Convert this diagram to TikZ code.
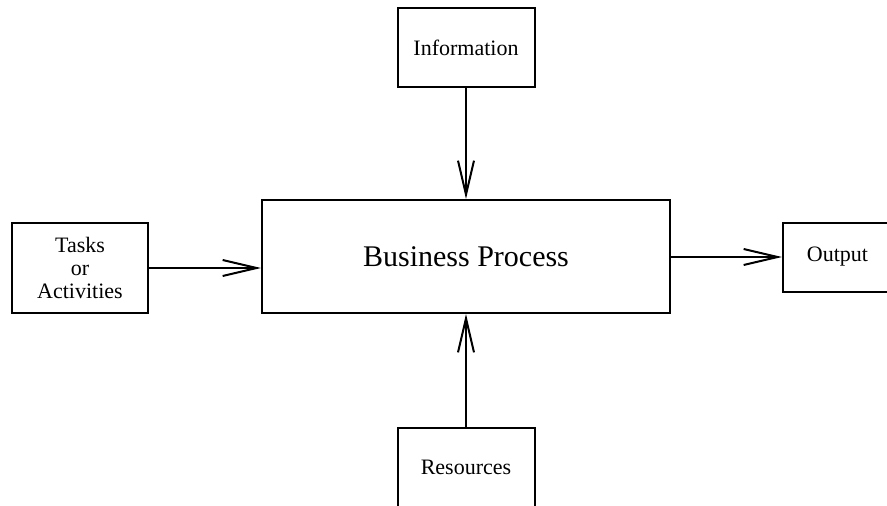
\documentclass[tikz,border=0pt]{standalone}
\usepackage{fontspec}
\setmainfont{Liberation Serif}
\usetikzlibrary{arrows.meta}

\begin{document}
\begin{tikzpicture}[x=1pt, y=-1pt,
	box/.style={draw, line width=2pt, inner sep=0pt, align=center, font=\fontsize{22}{23}\selectfont},
	flow/.style={line width=2pt, -{Straight Barb[length=34pt, width=16pt, line width=2pt]}}]

	\useasboundingbox (0,0) rectangle (887,506);

	\node[box, minimum width=408pt, minimum height=113pt, font=\fontsize{30}{32}\selectfont] (bp) at (466,256.5) {Business Process};
	\node[box, minimum width=137pt, minimum height=79pt] (info) at (466,47.5) {Information};
	\node[box, minimum width=137pt, minimum height=79pt] (res) at (466,467.5) {Resources};
	\node[box, minimum width=136pt, minimum height=90pt] (tasks) at (80,268) {Tasks\\or\\Activities};
	\node[box, minimum width=109pt, minimum height=69pt] (out) at (837.5,257) {Output};

	\draw[flow] (info.south) -- (bp.north -| info.south);
	\draw[flow] (res.north) -- (bp.south -| res.north);
	\draw[flow] (tasks.east) -- (tasks.east -| bp.west);
	\draw[flow] (bp.east |- out.west) -- (out.west);

\end{tikzpicture}
\end{document}
